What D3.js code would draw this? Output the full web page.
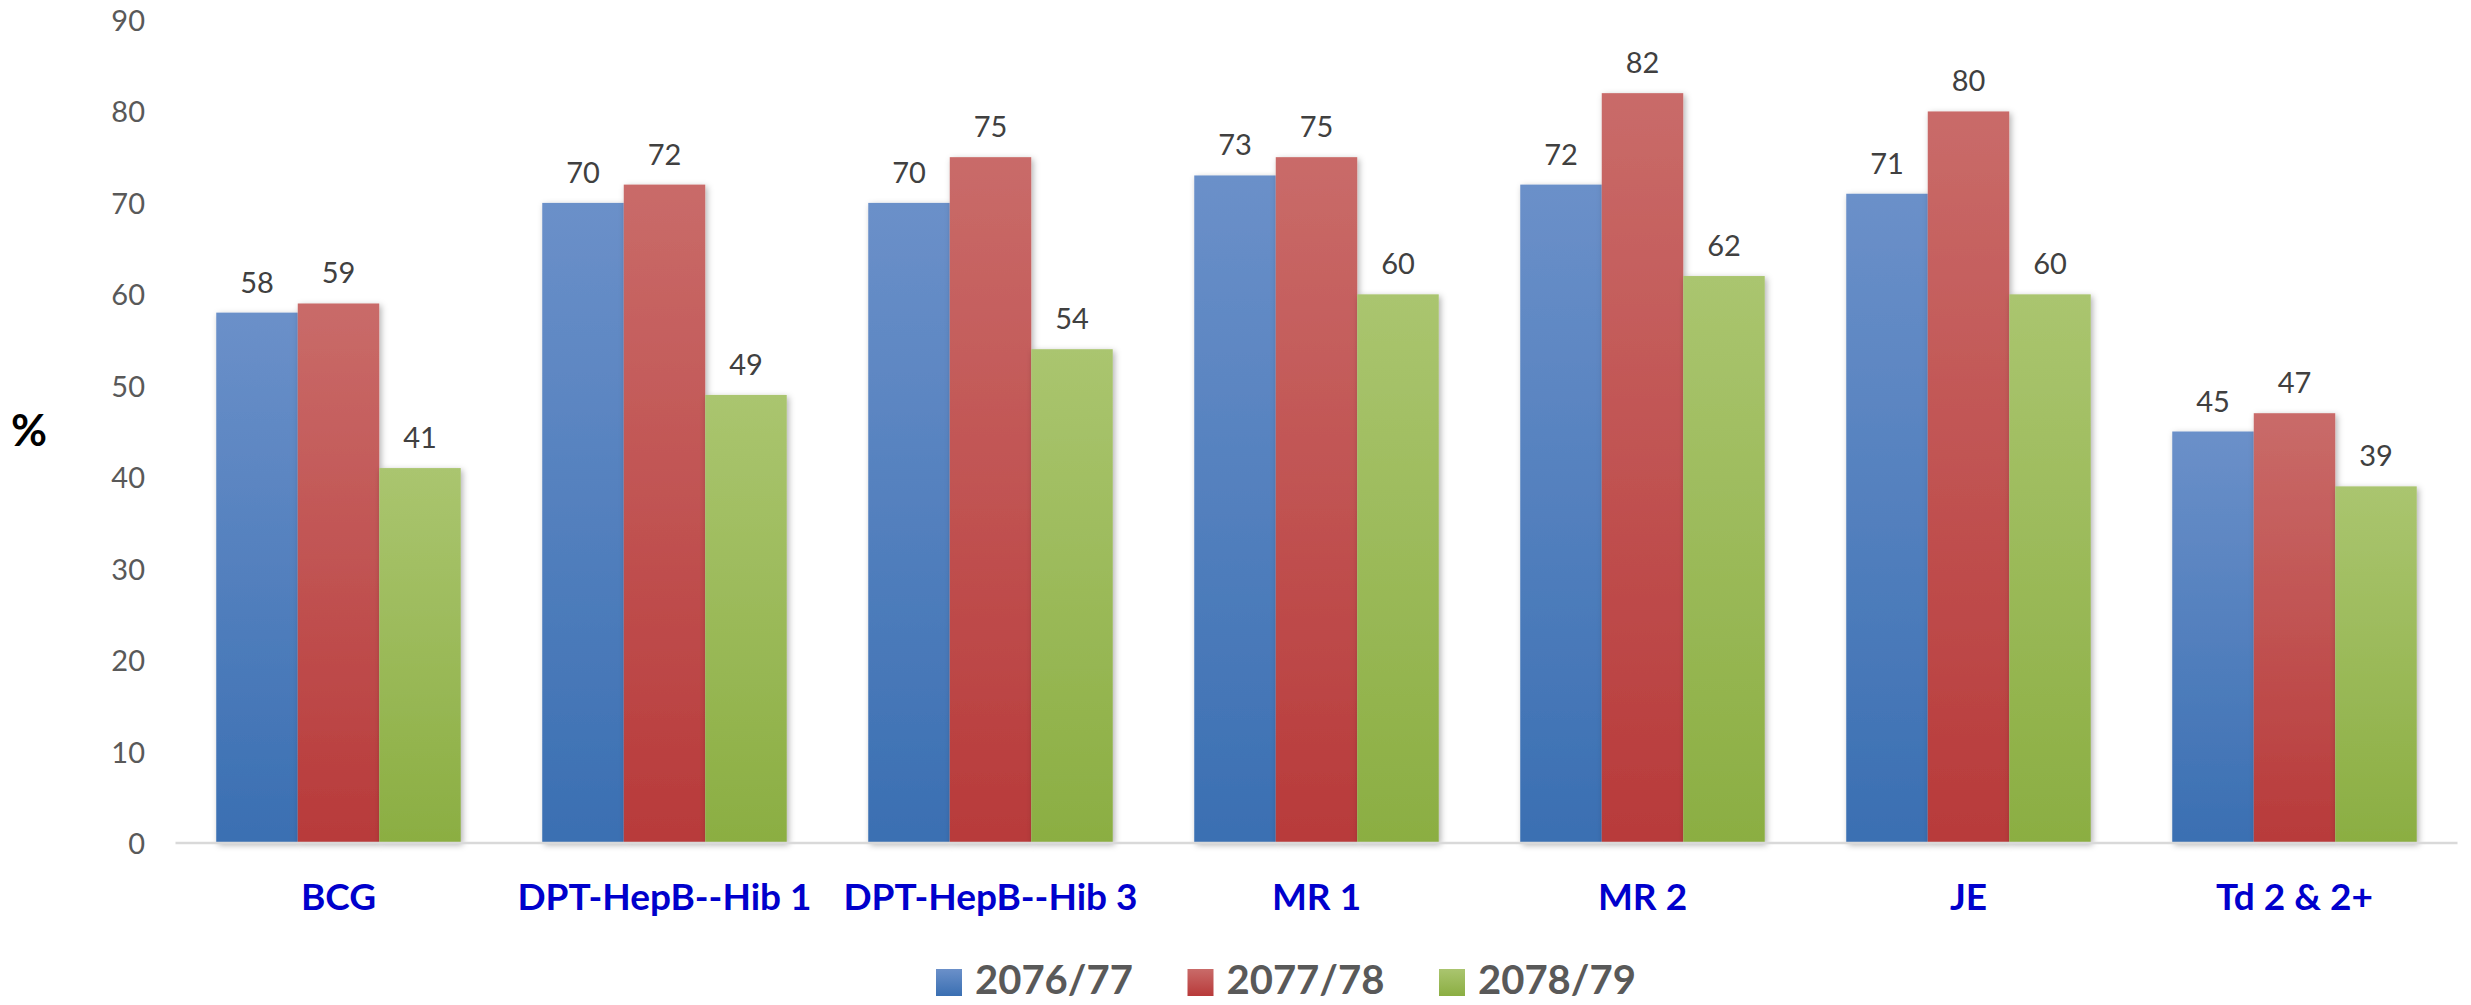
<!DOCTYPE html>
<html>
<head>
<meta charset="utf-8">
<script src="https://cdn.jsdelivr.net/npm/d3@7"></script>
<style>
  html, body { margin: 0; padding: 0; background: #ffffff; }
  svg { display: block; }
</style>
</head>
<body>
<script>
// ---- data ----
const categories = ["BCG", "DPT-HepB--Hib 1", "DPT-HepB--Hib 3", "MR 1", "MR 2", "JE", "Td 2 & 2+"];
const seriesNames = ["2076/77", "2077/78", "2078/79"];
const values2076 = [58, 70, 70, 73, 72, 71, 45];
const values2077 = [59, 72, 75, 75, 82, 80, 47];
const values2078 = [41, 49, 54, 60, 62, 60, 39];
const yTicks = [0, 10, 20, 30, 40, 50, 60, 70, 80, 90];
const yLabel = "%";

const seriesValues = [values2076, values2077, values2078];
const colorsTop = ["#6b90c9", "#c96b69", "#aac56f"];
const colorsBottom = ["#3a6fb2", "#b83a3a", "#8bae42"];

const W = 2471, H = 1005;
const svg = d3.select("body").append("svg").attr("width", W).attr("height", H);
const defs = svg.append("defs");

seriesNames.forEach((s, i) => {
  const g = defs.append("linearGradient").attr("id", "grad" + i)
    .attr("x1", 0).attr("y1", 0).attr("x2", 0).attr("y2", 1);
  g.append("stop").attr("offset", "0%").attr("stop-color", colorsTop[i]);
  g.append("stop").attr("offset", "100%").attr("stop-color", colorsBottom[i]);
});
const f = defs.append("filter").attr("id", "shadow")
  .attr("x", "-20%").attr("y", "-10%").attr("width", "140%").attr("height", "120%");
f.append("feDropShadow").attr("dx", 2).attr("dy", 2).attr("stdDeviation", 3)
  .attr("flood-color", "#000").attr("flood-opacity", 0.3);

const x0 = 175.5, x1 = 2457.5, yBase = 843, yTop = 20;
const x = d3.scaleBand().domain(categories).range([x0, x1]).paddingInner(0.25).paddingOuter(0.125);
const xs = d3.scaleBand().domain(seriesNames).range([0, x.bandwidth()]);
const y = d3.scaleLinear().domain([0, 90]).range([yBase, yTop]);

// y-axis tick labels
const yAxis = d3.axisLeft(y).tickValues(yTicks).tickSize(0).tickPadding(0);
const ya = svg.append("g").attr("transform", "translate(145,0)").call(yAxis);
ya.select(".domain").remove();
ya.selectAll("text")
  .attr("font-family", "Lato, 'Open Sans', sans-serif")
  .attr("font-size", 29)
  .attr("fill", "#595959")
  .attr("dy", "0.36em");

// bars
const groups = svg.append("g").selectAll("g").data(seriesNames).join("g")
  .attr("fill", (d, i) => `url(#grad${i})`);
groups.each(function(s, si) {
  d3.select(this).selectAll("rect").data(categories).join("rect")
    .attr("x", c => x(c) + xs(s))
    .attr("y", (c, ci) => y(seriesValues[si][ci]))
    .attr("width", xs.bandwidth())
    .attr("height", (c, ci) => y(0) - y(seriesValues[si][ci]))
    .attr("filter", "url(#shadow)");
});

// x axis line
const xAxis = d3.axisBottom(x).tickSize(0).tickPadding(0);
const xa = svg.append("g").attr("transform", `translate(0,${yBase})`).call(xAxis);
xa.select(".domain").attr("stroke", "#d9d9d9").attr("stroke-width", 2.5)
  .attr("d", `M${x0},0H${x1}`);
xa.selectAll("text")
  .attr("y", 54)
  .attr("dy", "0.36em")
  .attr("font-family", "Lato, 'Open Sans', sans-serif")
  .attr("font-weight", "bold")
  .attr("font-size", 37)
  .attr("fill", "#0000cc");

// data labels
groups.each(function(s, si) {
  svg.append("g").selectAll("text").data(categories).join("text")
    .attr("x", c => x(c) + xs(s) + xs.bandwidth() / 2)
    .attr("y", (c, ci) => y(seriesValues[si][ci]) - 20)
    .attr("text-anchor", "middle")
    .attr("font-family", "Lato, 'Open Sans', sans-serif")
    .attr("font-size", 29)
    .attr("fill", "#404040")
    .text((c, ci) => seriesValues[si][ci]);
});

// y label
svg.append("text").attr("x", 29).attr("y", 430).attr("dy", "0.36em")
  .attr("text-anchor", "middle")
  .attr("font-family", "Lato, 'Open Sans', sans-serif")
  .attr("font-weight", "bold").attr("font-size", 44).attr("fill", "#000")
  .text(yLabel);

// legend
const legendX = d3.scalePoint().domain(seriesNames).range([936, 1439]);
const lg = svg.append("g").selectAll("g").data(seriesNames).join("g")
  .attr("transform", d => `translate(${legendX(d)},969)`);
lg.append("rect").attr("width", 26).attr("height", 27)
  .attr("fill", (d, i) => `url(#grad${i})`);
lg.append("text").attr("x", 39).attr("y", 10.5).attr("dy", "0.36em")
  .attr("font-family", "Lato, 'Open Sans', sans-serif")
  .attr("font-weight", "bold").attr("font-size", 40).attr("fill", "#595959")
  .text(d => d);
</script>
</body>
</html>
